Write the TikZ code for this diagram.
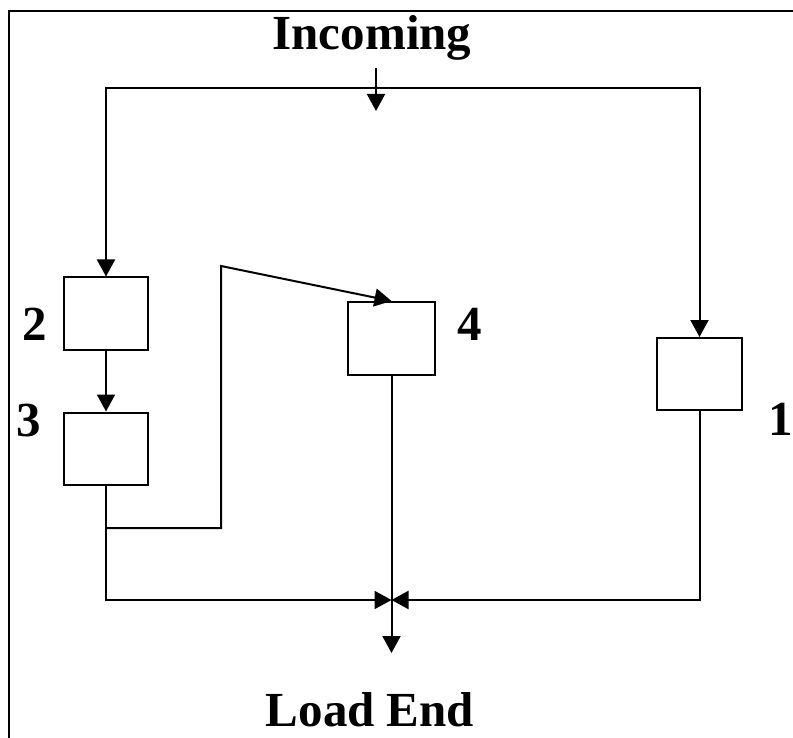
\documentclass[tikz,border=0pt]{standalone}
\usepackage{fontspec}
\setmainfont{Liberation Serif}
\usetikzlibrary{arrows.meta, positioning}
\tikzset{
  blk/.style  = {draw, line width=2pt, minimum width=84pt, minimum height=72pt,
                 inner sep=0pt},
  tag/.style  = {font=\fontsize{49}{50}\selectfont\bfseries, inner sep=0pt},
  wire/.style = {line width=2.2pt},
  flow/.style = {-{Triangle[length=17pt, width=18pt]}, line width=2pt},
  bus/.style  = {{Triangle[length=17pt, width=18pt]}-{Triangle[length=17pt, width=18pt]},
                 line width=2pt},
}

\begin{document}
\begin{tikzpicture}[x=1pt, y=-1pt]
  \useasboundingbox (0,0) rectangle (793,738);

  %% frame, only top and left
  \draw[wire] (793,11) -| (9,738);

  %% ---------------- boxes ----------------
  \node[blk] (b2) at (106,313.5) {};
  \node[blk, below=61pt of b2] (b3) {};
  \node[blk, minimum width=87pt, minimum height=73pt] (b4) at (391.5,338.5) {};
  \node[blk, minimum width=85pt] (b1) at (699.5,374) {};

  \node[tag, left=16pt of b2, yshift=-10.5pt] (n2) {2};
  \node[tag, left=22pt of b3, yshift=28pt] (n3) {3};
  \node[tag, right=21pt of b4, yshift=14.5pt] (n4) {4};
  \node[tag, right=25pt of b1, yshift=-45pt] (n1) {1};

  \node[tag, anchor=base] (inc) at (372,50) {Incoming};
  \node[tag, anchor=base] (load) at (370,726) {Load End};

  %% ---------------- points ----------------
  \coordinate (busT) at (376,88);
  \coordinate (inTop) at (376,68);
  \coordinate (inTip) at (376,111);
  \coordinate (tap) at (106,528);
  \coordinate (bend) at (221,266);
  \coordinate (jn) at (391.5,600);
  \coordinate (out) at (391.5,653);

  %% ---------------- flows ----------------
  \draw[flow] (inTop) -- (inTip);
  \draw[bus] (b2.north) |- (busT) -| (b1.north);
  \draw[flow] (b2) -- (b3);
  \draw[flow] (tap) -| (bend) -- (b4.north);
  \draw[flow] (b3.south) |- (jn);
  \draw[flow] (b1.south) |- (jn);
  \draw[flow] (b4.south) -- (out);

\end{tikzpicture}
\end{document}
